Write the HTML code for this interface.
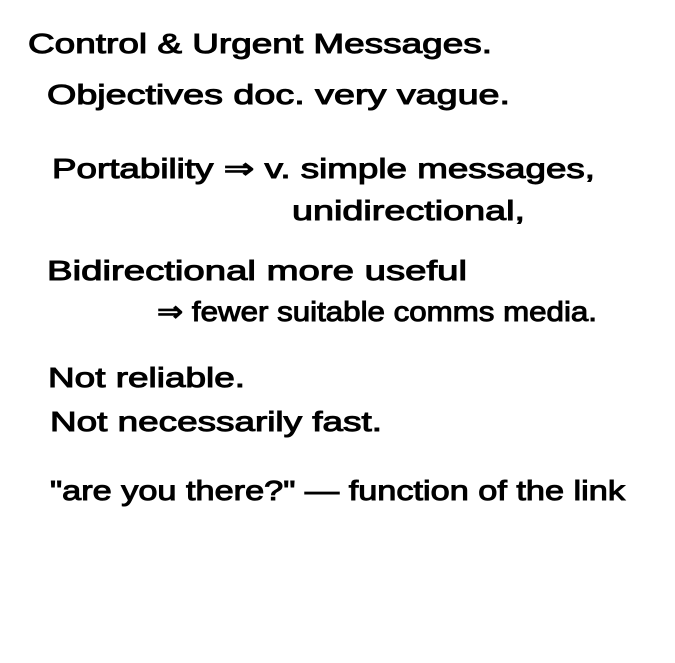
<!DOCTYPE html>
<html><head><meta charset="utf-8"><style>
html,body{margin:0;padding:0;background:#fff;}
svg{display:block;}
text{font-family:"Liberation Sans",sans-serif;fill:#000;stroke:#000;stroke-width:1;font-size:28px;}
</style></head><body>
<svg width="675" height="663" viewBox="0 0 675 663" xmlns="http://www.w3.org/2000/svg">
<text x="28" y="53" textLength="464" lengthAdjust="spacingAndGlyphs">Control &amp; Urgent  Messages.</text>
<text x="47" y="104" textLength="463" lengthAdjust="spacingAndGlyphs">Objectives doc.  very  vague.</text>
<text x="52" y="178" textLength="543" lengthAdjust="spacingAndGlyphs">Portability ⇒  v. simple messages,</text>
<text x="292" y="220" textLength="233" lengthAdjust="spacingAndGlyphs">unidirectional,</text>
<text x="47" y="280" textLength="420" lengthAdjust="spacingAndGlyphs">Bidirectional  more  useful</text>
<text x="157" y="321" textLength="440" lengthAdjust="spacingAndGlyphs">⇒ fewer suitable comms media.</text>
<text x="48" y="387" textLength="197" lengthAdjust="spacingAndGlyphs">Not  reliable.</text>
<text x="50" y="431" textLength="332" lengthAdjust="spacingAndGlyphs">Not  necessarily  fast.</text>
<text x="50" y="500" textLength="575" lengthAdjust="spacingAndGlyphs">"are  you there?"  —  function of the link</text>
</svg>
</body></html>
